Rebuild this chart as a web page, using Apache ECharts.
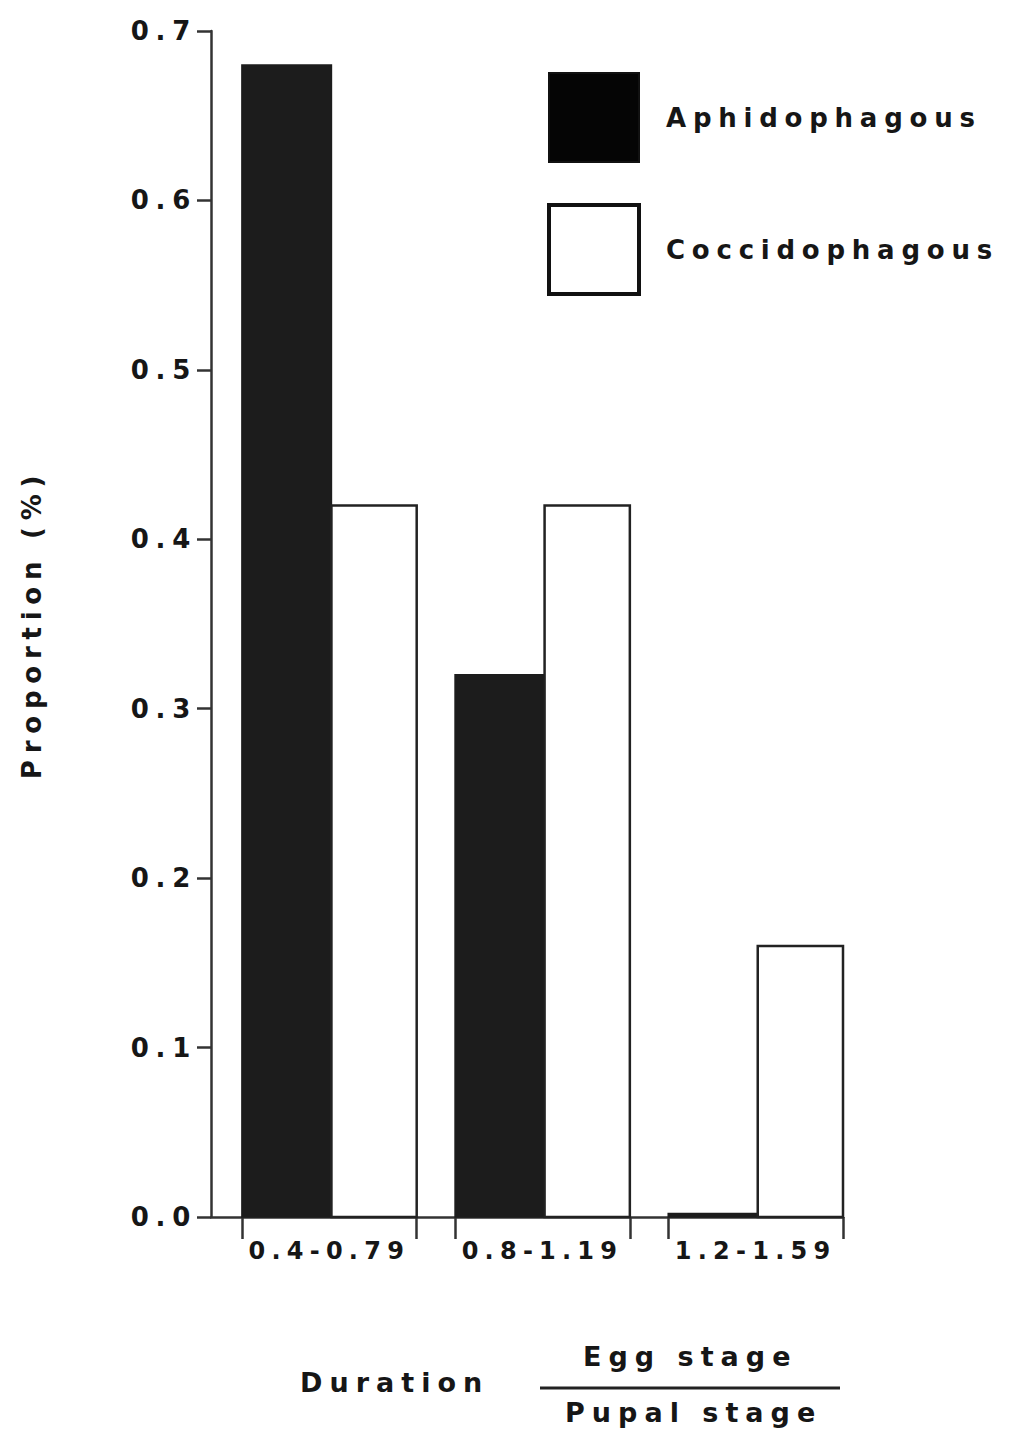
<!DOCTYPE html>
<html>
<head>
<meta charset="utf-8">
<script src="https://cdn.jsdelivr.net/npm/echarts@6/dist/echarts.min.js"></script>
<style>
  html, body { margin: 0; padding: 0; background: #ffffff; }
  #chart { width: 1020px; height: 1431px; }
  #chart text { letter-spacing: 0.26em; }
</style>
</head>
<body>
<div id="chart"></div>
<script>
// ---- data ----
var categories = ['0.4-0.79', '0.8-1.19', '1.2-1.59'];
var binStart = [0.4, 0.8, 1.2];
var binWidth = 0.4;
var aphidophagous = [0.68, 0.32, 0.002];
var coccidophagous = [0.42, 0.42, 0.16];
var seriesNames = ['Aphidophagous', 'Coccidophagous'];
var yTicks = [0, 0.1, 0.2, 0.3, 0.4, 0.5, 0.6, 0.7];
var yAxisName = 'Proportion (%)';
var xTitle = 'Duration';
var fracTop = 'Egg stage';
var fracBottom = 'Pupal stage';

// ---- layout / style ----
var fracA = 0.42, fracC = 0.40;
var xMin = binStart[0] - 0.058;
var xMax = binStart[binStart.length - 1] + binWidth * (fracA + fracC);
var FONT = "'DejaVu Sans', 'Liberation Sans', Arial, sans-serif";
var INK = '#161616';

var tickVals = [];
var labelVals = [];
binStart.forEach(function (s) {
  tickVals.push(s, s + binWidth * (fracA + fracC));
  labelVals.push(s + binWidth * (fracA + fracC) / 2);
});

function makeRender(offsetFrac, widthFrac, fill, stroke, lw) {
  return function (params, api) {
    var s = api.value(0), v = api.value(1);
    var x0 = s + binWidth * offsetFrac, x1 = x0 + binWidth * widthFrac;
    var p0 = api.coord([x0, v]);
    var p1 = api.coord([x1, 0]);
    return {
      type: 'rect',
      shape: { x: p0[0], y: p0[1], width: p1[0] - p0[0], height: p1[1] - p0[1] },
      style: { fill: fill, stroke: stroke, lineWidth: lw }
    };
  };
}

var chart = echarts.init(document.getElementById('chart'), null, { renderer: 'svg' });
chart.setOption({
  backgroundColor: '#ffffff',
  animation: false,
  textStyle: { fontFamily: FONT, fontWeight: 'bold', color: INK },
  grid: { left: 211, top: 31, right: 1020 - 843, bottom: 1431 - 1217, containLabel: false },
  legend: {
    orient: 'vertical',
    left: 547, top: 72,
    padding: 0,
    itemWidth: 90, itemHeight: 89, itemGap: 40,
    icon: 'rect',
    textStyle: { fontFamily: FONT, fontWeight: 'bold', fontSize: 26, color: INK, padding: [0, 0, 0, 22] },
    data: [
      { name: seriesNames[0], itemStyle: { color: '#050505', borderColor: '#111', borderWidth: 2 } },
      { name: seriesNames[1], itemStyle: { color: '#ffffff', borderColor: '#111', borderWidth: 4 } }
    ]
  },
  xAxis: {
    type: 'value',
    min: xMin, max: xMax,
    splitLine: { show: false },
    axisLine: { show: true, lineStyle: { color: '#333', width: 2.5 } },
    axisTick: { show: true, customValues: tickVals, length: 22, lineStyle: { color: '#333', width: 2.5 } },
    axisLabel: {
      customValues: labelVals,
      margin: 22,
      fontSize: 24, fontWeight: 'bold', fontFamily: FONT, color: INK,
      formatter: function (v) {
        var i = Math.round((v - labelVals[0]) / binWidth);
        return categories[i] || '';
      }
    }
  },
  yAxis: {
    type: 'value',
    min: yTicks[0], max: yTicks[yTicks.length - 1], interval: 0.1,
    name: yAxisName,
    nameLocation: 'middle',
    nameGap: 166,
    nameRotate: 90,
    nameTextStyle: { fontFamily: FONT, fontWeight: 'bold', fontSize: 26, color: INK },
    splitLine: { show: false },
    axisLine: { show: true, lineStyle: { color: '#333', width: 2.5 } },
    axisTick: { show: true, length: 14, lineStyle: { color: '#333', width: 2.5 } },
    axisLabel: {
      margin: 14,
      fontSize: 26, fontWeight: 'bold', fontFamily: FONT, color: INK,
      formatter: function (v) { return v.toFixed(1); }
    }
  },
  series: [
    {
      name: seriesNames[0], type: 'custom',
      itemStyle: { color: '#1c1c1c' },
      encode: { x: 0, y: 1 },
      data: binStart.map(function (s, i) { return [s, aphidophagous[i]]; }),
      renderItem: makeRender(0, fracA, '#1c1c1c', '#1c1c1c', 1.5)
    },
    {
      name: seriesNames[1], type: 'custom',
      itemStyle: { color: '#ffffff' },
      encode: { x: 0, y: 1 },
      data: binStart.map(function (s, i) { return [s, coccidophagous[i]]; }),
      renderItem: makeRender(fracA, fracC, '#ffffff', '#222', 2.5)
    }
  ],
  graphic: [
    { type: 'text', left: 300, top: 1369, style: { text: xTitle, font: "bold 27px 'DejaVu Sans', sans-serif", fill: INK } },
    { type: 'text', left: 583, top: 1343, style: { text: fracTop, font: "bold 27px 'DejaVu Sans', sans-serif", fill: INK } },
    { type: 'line', shape: { x1: 540, y1: 1388, x2: 840, y2: 1388 }, style: { stroke: '#222', lineWidth: 3 } },
    { type: 'text', left: 565, top: 1399, style: { text: fracBottom, font: "bold 27px 'DejaVu Sans', sans-serif", fill: INK } }
  ]
});
</script>
</body>
</html>
